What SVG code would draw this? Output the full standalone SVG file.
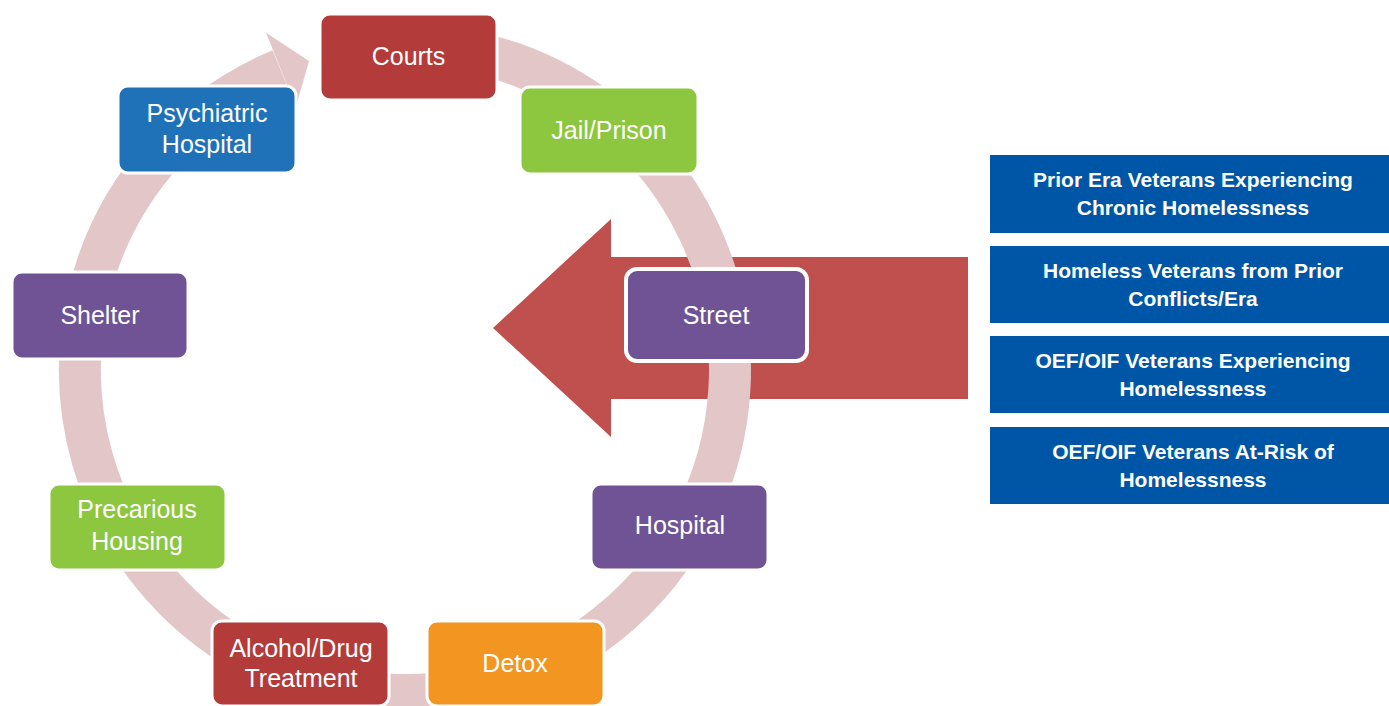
<svg xmlns="http://www.w3.org/2000/svg" width="1389" height="706" viewBox="0 0 1389 706">
<style>
.node rect{stroke:#ffffff;stroke-width:3}
.node text{font-family:"Liberation Sans",Arial,sans-serif;font-size:25px;fill:#ffffff;text-anchor:middle}
.red{fill:#B33C3A}.green{fill:#8DC63F}.purple{fill:#6F5395}.blue{fill:#1F72B8}.orange{fill:#F39521}
.cat rect{fill:#0056A6}
.cat text{font-family:"Liberation Sans",Arial,sans-serif;font-weight:bold;font-size:21px;fill:#ffffff;text-anchor:middle}
.ring{fill:none;stroke:#E3C7C8;stroke-width:42}
</style>
<rect width="1389" height="706" fill="#ffffff"/>
<g id="entry-arrow">
<polygon points="493,328 611,219 611,257 968,257 968,399 611,399 611,437" fill="#C0504D"/>
</g>
<g id="connectors">
<path class="ring" d="M461.4,49.9 A325,325 0 1 1 280.6,69.7"/>
<polygon points="266,32.7 309,61 295.9,106.7" fill="#E3C7C8"/>
</g>
<g id="node-courts" class="node"><rect class="red" x="320" y="14" width="177" height="86" rx="10"/><text x="408.5" y="65">Courts</text></g>
<g id="node-jail" class="node"><rect class="green" x="520" y="87" width="178" height="87" rx="10"/><text x="609" y="139">Jail/Prison</text></g>
<g id="node-psych" class="node"><rect class="blue" x="118" y="86" width="178" height="87" rx="10"/><text x="207" y="122">Psychiatric</text><text x="207" y="153">Hospital</text></g>
<g id="node-street" class="node"><rect class="purple" x="626" y="269" width="181" height="92" rx="11" style="stroke-width:4"/><text x="716" y="324">Street</text></g>
<g id="node-shelter" class="node"><rect class="purple" x="12" y="272" width="176" height="87" rx="10"/><text x="100" y="324">Shelter</text></g>
<g id="node-hospital" class="node"><rect class="purple" x="591" y="484" width="177" height="86" rx="10"/><text x="680" y="534">Hospital</text></g>
<g id="node-precarious" class="node"><rect class="green" x="49" y="484" width="177" height="86" rx="10"/><text x="137" y="518">Precarious</text><text x="137" y="550">Housing</text></g>
<g id="node-alcohol" class="node"><rect class="red" x="212" y="621" width="177" height="85" rx="10"/><text x="301" y="657">Alcohol/Drug</text><text x="301" y="687">Treatment</text></g>
<g id="node-detox" class="node"><rect class="orange" x="427" y="621" width="177" height="85" rx="10"/><text x="515" y="672">Detox</text></g>
<g id="cat-1" class="cat"><rect x="990" y="155" width="410" height="78"/><text x="1193" y="187">Prior Era Veterans Experiencing</text><text x="1193" y="215">Chronic Homelessness</text></g>
<g id="cat-2" class="cat"><rect x="990" y="246" width="410" height="77"/><text x="1193" y="278">Homeless Veterans from Prior</text><text x="1193" y="306">Conflicts/Era</text></g>
<g id="cat-3" class="cat"><rect x="990" y="336" width="410" height="77"/><text x="1193" y="368">OEF/OIF Veterans Experiencing</text><text x="1193" y="396">Homelessness</text></g>
<g id="cat-4" class="cat"><rect x="990" y="427" width="410" height="77"/><text x="1193" y="459">OEF/OIF Veterans At-Risk of</text><text x="1193" y="487">Homelessness</text></g>
</svg>
